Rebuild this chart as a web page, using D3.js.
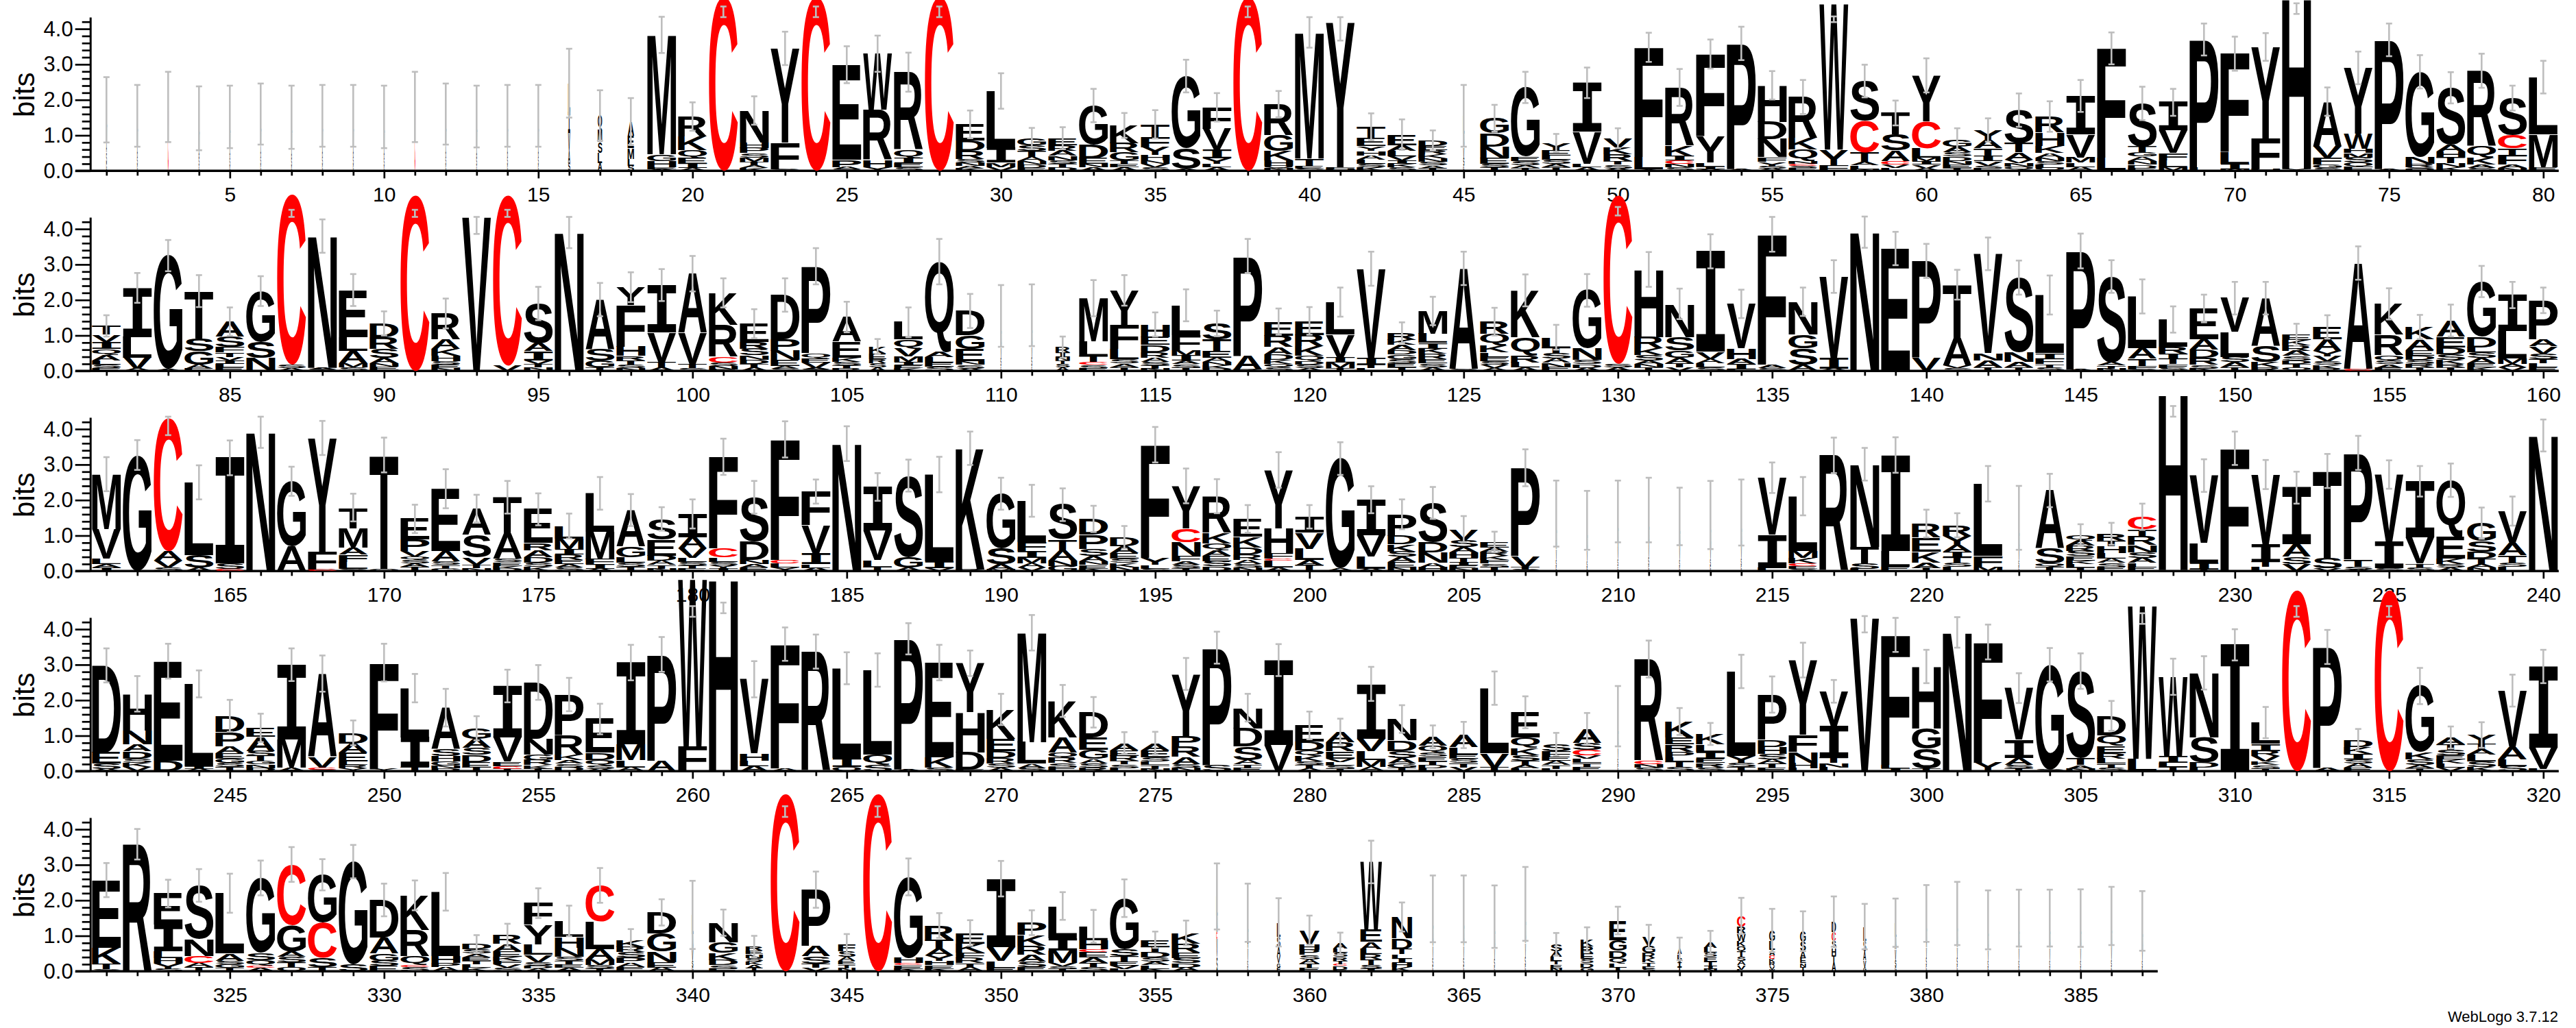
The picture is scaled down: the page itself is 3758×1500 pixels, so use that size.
<!DOCTYPE html>
<html><head><meta charset="utf-8">
<script src="https://cdn.jsdelivr.net/npm/d3@7"></script>
<style>body{margin:0;background:#fff;} svg{display:block;}</style>
</head><body>
<svg id="chart" width="3758" height="1500"></svg>
<script>
// ---------------- DATA ----------------
// Each stack lists letters from top to bottom with their heights in bits.
const rowStarts = [1, 81, 161, 241, 321];
const yTickValues = [0, 1, 2, 3, 4];
const yLabel = "bits";
const versionLabel = "WebLogo 3.7.12";

const stacksRow1 = [
"L.5 V.4 A.3 S.3 G.22","L.45 V.4 A.3 S.25 G.15","C1.8","L.45 V.35 A.3 S.25 G.13","L.45 V.4 A.3 S.25 G.12",
"L.5 V.4 A.3 S.25 G.15","L.45 V.4 A.3 S.24 G.12","L.45 V.4 A.3 S.25 G.15","L.45 V.4 A.3 S.25 G.15","L.45 V.4 A.3 S.25 G.12",
"C1.8","L.5 V.4 A.3 S.25 G.15","L.45 V.4 A.3 S.25 G.13","L.45 V.4 A.3 S.25 G.15","L.45 V.4 A.3 S.25 G.15",
"L.8 I.6 V.5 A.35 S.22","Q.4 M.35 S.3 L.3 A.21","A.4 E.35 M.3 L.2 S.14","M3.37 G.18 H.18 E.05 A.05","R.56 K.39 Q.22 E.16 I.12 A.08",
"C4.9","N.9 H.15 P.15 S.12 M.12 T.1 A.08 K.08","Y2.65 F.75 S.05","C4.9","E2.68 P.2 A.06 S.05",
"W1.58 R1.42 H.2 Y.1","R2.19 Q.22 I.15 E.12 S.1","C4.9","E.46 D.29 R.22 S.1 N.1 A.08 K.06","L1.6 I.42 M.13 V.1",
"G.19 S.16 T.16 A.12 N.1 D.1 E.08","E.2 R.15 A.15 N.12 S.1 T.1 D.1","G1.09 D.39 E.16 N.1 A.1","K.5 R.26 G.22 T.1 E.1 A.1","T.35 F.29 Y.22 H.15 N.1 V.1 S.1",
"G2.04 S.58 A.05","F.6 V.58 I.26 Y.15 L.1 A.1","C4.9","R.87 G.45 K.26 H.15 Q.08 N.07","M3.55 T.2 E.08 S.07",
"Y4.08 F.05 H.05","T.32 E.22 Y.13 H.13 A.12 L.12 S.1 K.1","E.3 A.15 L.15 V.12 I.1 K.1 S.1","D.15 E.12 R.12 K.12 N.1 S.1 A.08 T.07","L.5 A.4 V.3 S.22 G.13",
"G.42 D.38 N.32 E.16 S.1 T.1","G1.95 E.12 S.12 A.08 T.08","Y.2 E.15 L.12 S.12 A.1 T.1","I1.38 V.9 L.1 A.1","V.25 K.2 R.2 T.1 S.1 A.07",
"F3.08 L.35 Y.05","R1.64 K.29 I.12 C.1 N.1 S.1","F2.32 Y.74 L.1 I.08 V.05","P3.54 A.05","H1.03 D.48 N.51 F.13 Y.13 S.07 A.06",
"R1.16 K.32 Q.32 N.08 C.06 S.06 E.08","W4.1 Y.45 F.15","S1.12 C.9 T.26 A.1 L.1 N.05","T.61 S.45 A.29 C.1 V.1 L.08","Y1.29 C.77 L.26 M.1 I.1 V.1 A.07",
"G.2 A.15 S.12 D.12 N.1 E.1 T.08","Y.29 A.22 T.2 I.16 V.13 S.08 E.07","S.93 T.26 A.2 V.1 N.1 Q.1 G.02","R.45 H.38 K.2 A.12 N.1 S.1 L.1 Q.08","I1.09 V.64 M.15 L.12 A.11",
"F3.08 L.35 Y.02","S1.21 T.16 G.13 A.13 N.1 D.1 E.07","I.79 V.64 F.2 L.2 M.1","P3.6 L.1","F2.78 L.32 I.15 M.05",
"Y2.57 F.87 H.05","H4.8 Y.05","A1.25 V.32 F.2 G.1 S.08","Y1.85 W.42 H.13 M.12 S.15 Q.12 F.11","P3.64 A.05",
"G2.39 N.2 R.1 S.05 D.05","S1.6 A.2 H.16 T.16 N.12 K.1","R2.12 Q.32 K.2 A.1 S.08","S1.03 C.39 T.19 F.26 A.1 N.08","L1.61 M.93 E.1"
];
const stacksRow2 = [
"T.25 V.2 I.2 Q.17 A.15 L.12 S.1 E.08","I1.38 L.58 V.32 A.06","G3.2 A.05","T1.33 S.35 G.39 A.12 E.06","A.42 S.29 F.15 T.13 V.1 I.1 L.1 E.1",
"G1.43 S.45 N.35 A.02","C4.8 S.1 A.08","N3.71 A.05 S.04","E1.32 L.39 A.35 M.12 S.1","D.39 R.32 S.26 A.15 N.1 E.1 K.02",
"C4.95","R.74 A.26 K.19 H.15 S.1 E.1 N.08","V4.33","C4.8 V.15","S1.11 A.23 I.26 V.1 T.1 N.1",
"N3.88 S.02","A1.4 S.32 G.19 T.1","Y.5 F1.17 H.26 R.13 T.12 S.1 N.08","I1.34 V.84 T.14 A.1","A1.67 V.87 T.12 S.08",
"K.9 R.9 C.16 S.1 N.1 E.04","E.51 R.19 S.19 N.12 D.12 T.1 A.1","D1.25 P.32 N.26 E.16 A.08 S.07","P2.45 Q.13 E.13 V.15 A.05 S.04","A.69 E.45 K.12 S.1 T.1 R.06",
"K.2 E.15 R.12 S.12 A.1","L.48 Q.26 V.22 M.15 I.1 E.08 K.08","Q2.54 A.15 L.15 E.12 S.12","D.68 G.39 E.35 N.1 S.1 A.07","L.5 A.4 V.3 S.22 G.13",
"L.5 A.4 V.3 S.24 G.13","R.15 I.12 N.1 T.1 S.1 A.1","M1.22 L.42 T.16 C.08 S.1 E.07","Y.97 F.68 L.29 S.12 A.1 T.1 N.01","H.35 E.23 D.2 R.15 A.12 S.1 T.1 N.06",
"L.84 F.42 M.15 I.15 A.1 S.1 T.09","S.45 T.32 E.19 A.12 N.1 K.1 D.06","P2.8 A.39 R.05","E.4 R.32 A.2 D.15 K.12 Q.1 S.1","E.4 R.32 K.26 Q.15 D.1 S.1 A.08",
"L.92 V.64 I.15 M.15 T.08","V2.5 I.2 T.1 L.08","R.2 K.15 A.15 D.12 G.12 S.12 E.12 T.1","M.64 L.26 I.16 K.15 R.15 E.12 S.11 A.1","A2.84 S.05",
"R.35 Q.32 K.19 L.13 E.12 S.1 V.1 A.08","K1.32 Q.51 R.2 L.14 A.1","L.3 T.15 S.15 A.12 N.12 E.11","G1.64 N.32 S.12 D.1 A.09","C4.75 S.1 A.1",
"H1.9 R.32 K.19 S.15 A.1 N.1 T.1","N.93 S.39 G.2 A.15 T.12 V.1","I2.83 V.2 A.12 L.12 S.1","V1.25 H.3 A.15 I.15 L.04","F3.67 A.1 S.08",
"N.93 G.39 S.45 A.15 I.03","V2.3 I.3 A.06","N3.91","E3.43 A.02","P2.73 V.37",
"T1.5 A.77 V.08 S.08","V2.8 N.2 A.2 T.1","S2.12 N.26 A.15 T.1","L1.64 I.16 F.15 T.1 S.09","P3.33 A.05",
"S2.41 A.1 T.08 N.07","L1.45 A.3 T.2 F.1 S.05","L.76 R.2 I.15 T.15 F.1 S.09","E.87 A.29 D.23 R.2 S.1 K.07","V.95 L.7 S.15 A.15 T.1",
"A1.35 S.45 K.15 R.1","E.15 K.15 R.15 A.15 S.12 D.1 T.1 Q.1","E.35 A.32 Y.15 V.15 S.1 K.1 R.07","A2.99 C.05","K.87 R.58 Q.15 S.1 A.1 E.09",
"K.35 A.3 E.15 D.12 S.12 R.1 T.1","A.45 E.3 D.2 S.15 K.12 R.1 T.1","G1.55 D.3 L.15 S.15 A.15 E.12 K.1","I1.02 L.77 M.15 A.1 V.1","P1.1 A.2 V.2 S.15 T.12 L.12 E.1"
];
const stacksRow3 = [
"M1.54 V.84 L.15 A.1 I.1","G3.27","C3.75 A.26 V.2 S.1","L2.05 S.35 A.1","I2.98 S.15 C.06",
"N3.91","G1.83 A.68 S.02","Y3.2 F.5 C.05","T.58 M.55 A.2 F.2 L.2 S.06","T3.2 Q.07",
"E.58 P.32 V.15 Q.1 S.1 A.1 T.12","E1.75 A.3 S.1 T.1 G.07","A.74 S.64 V.2 T.1 N.08","T1.02 A.71 S.1 E.1 K.08 D.07","E.95 R.2 A.2 D.15 S.12 K.12",
"L.35 M.3 I.15 R.15 E.12 A.1 S.1","L1.08 M.77 F.15 I.12 A.07","A1.03 G.3 L.15 S.12 T.12","S.58 E.45 D.15 A.12 T.1 N.07","I.65 A.32 V.26 L.12 S.1 T.1 E.06",
"F2.58 C.26 L.12 S.1 Y.08 I.08","S1.25 D.51 N.12 A.1 E.1","F3.4 C.1 L.11 Y.1","F.95 V.8 I.3 L.1 A.09","N3.59",
"I1.22 V.84 L.2 T.11","S2.3 G.3 A.09","L2.44 I.2 V.08","K3.41 R.05","G1.54 S.45 A.15 M.04",
"L1.16 F.25 I.2 M.15 A.12 V.1","S.98 T.3 A.3 N.15 G.14","D.45 P.4 S.2 A.15 N.1 E.1 K.07","D.25 A.2 E.15 S.12 K.12 N.11","F3.19 Y.2 L.1 S.07",
"Y1.19 C.39 N.39 F.15 A.1 S.1 T.08","R1.03 K.3 Q.2 A.15 E.15 S.15 D.13","E.5 K.3 D.2 R.15 A.12 S.1 N.1","Y1.64 H.7 F.15 C.06 L.2 A.1","I.45 V.45 L.32 A.15 T.16",
"G3.1 A.07","I1.0 V.6 L.35 A.06","P.6 D.25 K.2 S.15 A.15 E.15 N.1","S1.09 D.3 N.3 A.12 H.11","V.3 S.2 A.15 H.15 T.12 I.1 E.08 N.08",
"E.15 A.12 R.12 K.12 F.1 S.1 T.11","P2.48 V.3 T.08 S.05","L.55 A.45 V.3 S.2 G.12","L.5 A.35 V.3 S.18 G.1","L.55 A.45 V.35 S.2 G.13",
"L.55 A.45 V.35 S.22 G.15","L.5 A.4 V.32 S.2 G.12","L.5 A.42 V.32 S.2 G.14","L.55 A.43 V.32 S.2 G.15","V1.61 I.93 L.09",
"L1.54 M.2 K.15 C.08 E.08 S.06","R3.26","N2.32 T.48 S.15 L.06","I2.7 L.45 E.12","R.4 E.4 K.3 A.15 T.09",
"R.3 Y.25 A.2 I.15 T.15 S.12 L.12","L2.03 F.3 M.13","L.5 A.4 V.3 S.18 G.12","A1.64 S.42 Q.1 T.11","Q.15 A.15 R.15 S.15 E.12 K.1 L.1 T.1",
"R.2 T.15 H.2 L.15 A.12 S.12 E.11","C.35 T.2 R.25 N.2 S.15 A.15 L.12 E.11","H4.95 Y.03","V1.9 L.55 I.2 T.04","F3.46",
"V1.96 I.5 T.14 L.12","I1.6 A.35 S.2 V.2","T2.45 S.3 V.07","P3.0 T.2 S.08 A.05","V1.9 I.74 S.08",
"I1.58 V.74 T.1 S.11","Q1.6 E.61 K.15 S.1 A.1","G.5 S.3 D.2 T.15 A.1 N.1","V.9 A.35 T.2 S.12 L.12","N3.82"
];
const stacksRow4 = [
"D2.45 E.32 S.15 A.06","H1.03 N.39 A.2 D.2 S.12 K.12 V.12","E2.8 D.3","L2.32 I.08 A.06","D.45 P.4 A.2 E.15 G.12 S.12 T.12",
"E.25 A.4 S.14 T.14 G.1 N.1 D.09","I2.1 M.8 A.1","A2.35 V.3 C.05 S.05","D.3 A.25 E.25 L.1 R.1 Y.08","F3.0 Y.06",
"L1.38 I.84 T.12","A1.16 S.2 H.15 G.12 N.08 D.08","G.3 A.25 S.2 D.2 E.15 T.11","I1.45 V.68 E.12 C.08 T.07","D1.58 N.45 G.15 R.15 K.1 T.07",
"P1.15 R.55 K.15 A.1 S.1 D.11","E.95 D.2 Q.15 S.1 A.07","I2.3 M.45 L.2 A.11","P2.99 A.3","W4.7 F.7",
"H5.4","V2.09 H.2 L.15 A.15","F3.5 A.08","R3.37","L2.52 I.26 Q.12",
"L2.38 Q.3 S.17","P3.68 A.05","E2.66 K.3 S.1","Y1.38 H1.13 D.48 E.05","K.82 E.35 D.2 R.15 S.12 A.1",
"M3.08 L.61 A.12 S.09","K1.03 A.42 Q.15 R.15 S.12 E.11","D.71 E.35 G.26 A.12 S.12 R.1","A.2 E.15 R.15 T.1 S.1 L.09","A.2 E.2 S.12 L.1 T.1 N.07",
"Y1.74 P.3 R.3 A.2 S.1 N.1","P3.3 S.18","N.58 D.51 S.39 A.12 T.1 E.09","I2.39 V.74","E.46 D.25 Q.15 K.15 S.1 T.1 A.08",
"A.3 R.25 E.2 V.1 L.1 S.1 T.06","I1.54 V.35 L.25 M.2 A.12","N.6 D.3 S.2 A.15 G.12 T.1","A.25 Q.2 S.12 E.12 T.1 D.1 L.08","A.35 L.2 E.12 S.12 T.12 V.11",
"L1.83 V.4 T.11","E.71 Q.3 K.2 S.15 T.12 A.1 L.08","S.2 F.15 E.12 A.12 T.1 L.07","A.4 S.2 C.15 V.1 L.12 T.12 E.11","L.5 A.4 V.3 S.2 G.15",
"R2.86 C.1 N.1 S.1","K.45 E.2 R.2 P.15 L.12 T.15 S.13","K.3 L.2 I.2 E.12 R.12 S.11","L2.37 Y.2 S.12 T.12","P1.27 D.2 H.2 S.15 A.12 T.12 E.1",
"Y2.11 F.48 N.3 H.15 L.09","V.97 I.9 T.15 N.12 L.11","V4.31","F3.66 L.1 I.08","H1.74 G.58 S.55 T.08",
"N3.91","F3.4 Y.24","V1.45 I.51 A.2 S.1 T.08","G2.95 S.05","S2.45 T.2 A.1 N.07",
"D.55 Q.3 E.2 R.15 L.15 T.12 S.09","W4.3 L.35","W2.22 I.2 L.12 T.12","N1.81 S.71 D.15 L.1","I3.56",
"L.6 I.2 R.15 V.15 K.1 S.1 T.07","C5.1","P3.41 A.09","D.2 K.2 I.15 S.12 A.12 E.1","C5.1",
"G1.87 K.2 S.15 A.1 T.08","A.2 T.15 S.15 E.12 K.12 L.11 V.1","Y.25 T.15 A.15 L.2 S.15 K.12","V1.58 A.35 L.2 S.14","I2.28 V.6 L.07"
];
const stacksRow5 = [
"E1.91 K.45 T.15 S.06","R3.58","E.88 I.74 L.2 H.15 Y.15 S.07","S1.5 N.48 C.2 A.12 T.12","L1.7 A.2 S.1 G.1 T.1",
"G2.12 S.2 Q.15 C.06 A.1","C1.71 G.74 A.15 S.15 T.15 Q.11","G1.35 C1.0 S.25 T.12","G2.9 S.19","D1.06 A.45 G.2 S.15 E.15",
"K.97 R.74 Q.25 C.06 S.12","L1.8 H.2 P.12 A.12","D.15 S.12 A.1 E.1 T.1 L.1 K.1","R.25 A.2 E.15 K.12 F.1 V.1 S.1","F.61 Y.55 L.3 V.2 S.1 D.08 A.08",
"L.45 H.3 N.25 S.12 T.1 E.1 A.1","C1.02 L.77 A.3 M.15 S.1 T.08","K.2 R.15 S.15 P.15 A.12 E.12","D.6 G.5 N.3 E.15 A.11","L.55 A.45 V.3 S.17 G.12",
"N.55 G.3 K.2 D.15 S.1 E.07","R.12 E.1 N.1 S.1 K.1 A.09 T.09","C5.0","P1.58 A.3 S.2 T.12 V.1","F.2 S.15 A.12 E.1 T.1 N.09",
"C5.0","G2.28 H.15 C.06 E.1 K.07","R.4 T.25 A.2 Y.15 H.12 E.1 K.07","E.3 K.25 F.15 R.15 T.12 A.11","I1.92 V.4 L.2 E.09",
"P.35 K.3 R.25 A.2 S.15 E.12","L.9 I.35 M.35 V.1 S.08 T.06","L.4 H.25 C.08 E.15 A.15 T.12 S.12","G1.43 S.2 T.15 E.12 V.1 L.06","E.2 T.15 D.15 S.12 A.1 L.1 K.07",
"K.3 R.25 E.15 S.15 D.12 A.11","L.55 A.45 C.2 V.5 S.41","L.55 A.45 V.35 S.2 G.1","L.4 S.3 A.25 V.2 G.13 E.1","V.4 H.15 P.15 S.12 A.12 T.12 E.1",
"A.15 L.12 S.12 R.1 T.1 C.05 D.1 E.05","W1.9 E.35 A.2 L.15 R.15 T.15 S.1 I.08","N.6 D.3 T.15 L.12 I.12 H.12 K.12","L.55 A.5 V.35 S.22 G.14","L.55 A.5 V.35 S.22 G.14",
"L.5 A.4 V.3 S.22 G.12","L.6 A.5 V.4 S.25 G.15","S.2 A.15 L.12 T.1 E.1 N.09","K.2 R.2 E.15 S.12 D.12 G.11","E.55 G.3 D.2 Q.15 L.12 T.11",
"V.25 G.2 R.15 K.12 T.1 E.08 S.07","A.15 L.12 V.12 I.12 T.12","A.15 L.15 S.12 E.12 T.12 I.1 N.06","C.3 R.2 W.2 K.15 Q.15 T.15 S.12 A.12 V.12 L.05","G.3 L.25 A.15 C.1 K.1 R.1 V.1 W.05",
"G.3 S.25 A.2 E.15 N.1 T.13","D.3 C.25 S.2 H.2 T.2 A.25","L.4 S.3 A.25 V.2 G.11","L.4 A.35 V.3 S.2 G.12","L.5 A.45 V.3 S.23 G.15",
"L.5 A.45 V.3 S.23 G.15","L.45 A.4 V.3 S.2 G.1","L.45 A.4 V.35 S.2 G.1","L.45 A.4 V.35 S.2 G.1","L.45 A.4 V.35 S.2 G.1",
"L.5 A.4 V.35 S.2 G.11","L.45 A.37 V.3 S.2 G.1"
];

// error bar half-lengths (bits)
const errRow1 = [.92,.87,.99,.9,.88,.86,.89,.87,.87,.88, .99,.86,.87,.87,.87,.97,.71,.66,.51,.4, .15,.4,.47,.15,.52,.51,.55,.15,.39,.5, .3,.31,.47,.35,.4,.46,.4,.15,.37,.43, .33,.38,.43,.28,.87,.38,.44,.25,.43,.28, .41,.52,.41,.47,.4,.48,.08,.46,.35,.48, .33,.33,.47,.43,.45,.45,.47,.38,.45,.48, .39,.15,.4,.46,.46,.47,.44,.48,.35,.46];
const errRow2 = [.3,.42,.44,.45,.4,.42,.1,.47,.45,.34, .1,.42,.24,.1,.47,.44,.47,.42,.45,.5, .41,.41,.47,.51,.43,.21,.42,.64,.48,.87, .87,.3,.51,.43,.34,.45,.36,.48,.37,.39, .41,.48,.29,.4,.47,.39,.45,.35,.46,.12, .49,.43,.48,.4,.49,.4,.46,.44,.47,.48, .42,.46,.48,.55,.49,.46,.48,.37,.39,.46, .46,.31,.33,.47,.44,.34,.45,.44,.37,.36];
const errRow3 = [.48,.42,.26,.48,.49,.44,.41,.48,.39,.49, .4,.55,.39,.46,.45,.35,.46,.45,.33,.41, .51,.46,.51,.34,.49,.39,.45,.5,.47,.45, .45,.46,.37,.32,.5,.49,.48,.39,.5,.33, .46,.38,.42,.45,.37,.29,.52,.93,.83,.87, .91,.81,.96,.93,.43,.54,.5,.46,.5,.39, .34,.5,.9,.47,.3,.31,.37,.15,.46,.47, .41,.45,.48,.48,.4,.43,.47,.44,.41,.45];
const errRow4 = [.48,.5,.49,.38,.45,.4,.46,.51,.35,.53, .4,.53,.34,.46,.49,.47,.43,.5,.49,.15, .15,.51,.47,.48,.45,.47,.44,.5,.36,.44, .5,.45,.43,.31,.32,.45,.45,.39,.45,.39, .37,.48,.39,.32,.37,.47,.45,.32,.44,.85, .52,.38,.31,.47,.51,.49,.32,.23,.48,.47, .43,.49,.42,.47,.5,.42,.15,.51,.47,.44, .44,.15,.48,.3,.15,.51,.31,.36,.45,.47];
const errRow5 = [.48,.43,.39,.46,.55,.49,.49,.44,.47,.46, .42,.53,.25,.32,.42,.43,.49,.3,.37,.96, .37,.3,.15,.51,.29,.15,.52,.35,.36,.5, .35,.39,.46,.53,.23,.35,.93,.82,.68,.41, .3,.6,.41,.94,.94,.88,1.04,.32,.34,.39, .34,.32,.32,.51,.61,.56,.71,.64,.68,.8, .89,.83,.8,.8,.81,.82,.84];

// error bar centres where they differ from the drawn stack top
const errorCenters = {21:4.48,24:4.48,28:4.48,38:4.48,41:4.0,57:4.27,72:4.57,87:4.44,91:4.44,93:4.1,94:4.44,
  130:4.5,163:4.09,228:4.5,260:4.5,261:4.6,298:4.14,307:4.3,312:4.5,315:4.5,343:4.5,346:4.5};

// relative stack widths of gappy columns (others = 1)
const columnWidths = {1:.025,2:.025,3:.025,4:.025,5:.025,6:.025,7:.025,8:.025,9:.025,10:.025,11:.025,12:.025,13:.025,14:.025,15:.025,
  16:.07,17:.15,18:.22,45:.04,106:.6,110:.03,111:.03,112:.5,208:.03,209:.03,210:.03,211:.03,212:.03,213:.03,214:.03,223:.03,
  290:.03,340:.05,342:.6,345:.6,357:.04,358:.03,359:.12,360:.7,361:.5,362:.75,363:.7,364:.03,365:.03,366:.03,367:.03,
  368:.4,369:.45,370:.6,371:.45,372:.15,373:.45,374:.3,375:.2,376:.2,377:.15,378:.1,379:.05,
  380:.03,381:.03,382:.03,383:.03,384:.03,385:.03,386:.03,387:.03};

// ---------------- DRAWING ----------------
const FONT = '"Liberation Sans", Arial, Helvetica, sans-serif';
const LETTER_FONT = '"Liberation Sans"';
const SERIF_I_FONT = '"DejaVu Sans Mono"';   // 'I' drawn with bars, as in the logo
const X0 = 155.3, STEP = 45, ROW_Y0 = 249.3, ROW_STEP = 292, BIT = 51.8, FULL_W = 42;
const YMAX = 4.33;
const svg = d3.select('#chart');
svg.append('rect').attr('width', 3758).attr('height', 1500).attr('fill', '#fff');

const canvas = document.createElement('canvas');
const ctx = canvas.getContext('2d');
const FONT_PX = 200;
function fontFor(ch) { return ch === 'I' ? SERIF_I_FONT : LETTER_FONT; }
const inkCache = {};
function ink(ch) {
  if (!inkCache[ch]) {
    ctx.font = `bold ${FONT_PX}px ${fontFor(ch)}`;
    const m = ctx.measureText(ch);
    inkCache[ch] = {l: m.actualBoundingBoxLeft, r: m.actualBoundingBoxRight, a: m.actualBoundingBoxAscent, d: m.actualBoundingBoxDescent};
  }
  return inkCache[ch];
}
function parseStack(s) {
  return s.trim().split(/\s+/).map(t => ({ch: t[0], h: parseFloat(t.slice(1))}));
}

const rows = [
  {start: rowStarts[0], stacks: stacksRow1, errs: errRow1},
  {start: rowStarts[1], stacks: stacksRow2, errs: errRow2},
  {start: rowStarts[2], stacks: stacksRow3, errs: errRow3},
  {start: rowStarts[3], stacks: stacksRow4, errs: errRow4},
  {start: rowStarts[4], stacks: stacksRow5, errs: errRow5}
];
const minorY = d3.range(1, 22).map(i => +(i * 0.2).toFixed(1)).filter(v => Math.abs(v - Math.round(v)) > 1e-6);

rows.forEach((row, r) => {
  const y0 = ROW_Y0 + r * ROW_STEP;
  const end = row.start + row.stacks.length - 1;
  const positions = d3.range(row.start, end + 1);
  const x = d3.scaleLinear().domain([row.start, row.start + 1]).range([X0, X0 + STEP]);
  const y = d3.scaleLinear().domain([0, YMAX]).range([y0, y0 - YMAX * BIT]);
  const g = svg.append('g');

  // y axis
  const ya = g.append('g').attr('transform', 'translate(131.7,0)')
    .call(d3.axisLeft(y).tickValues(yTickValues).tickSize(22).tickPadding(3).tickSizeOuter(0).tickFormat(d3.format('.1f')));
  ya.attr('font-family', FONT).attr('font-size', 31);
  ya.select('.domain').attr('stroke-width', 3);
  ya.selectAll('.tick line').attr('stroke-width', 2.7);
  ya.selectAll('.tick text').attr('fill', '#000');
  const ym = g.append('g').attr('transform', 'translate(131.7,0)')
    .call(d3.axisLeft(y).tickValues(minorY).tickSize(12).tickFormat(''));
  ym.select('.domain').remove();
  ym.selectAll('.tick line').attr('stroke-width', 2.7);

  g.append('text').attr('transform', `translate(50,${y0 - 111}) rotate(-90)`)
    .attr('text-anchor', 'middle').attr('font-family', FONT).attr('font-size', 42).attr('fill', '#000').text(yLabel);

  // x axis
  g.append('line').attr('x1', 110).attr('x2', x(end) + STEP / 2).attr('y1', y0).attr('y2', y0)
    .attr('stroke', '#000').attr('stroke-width', 3.4);
  const xm = g.append('g').attr('transform', `translate(0,${y0})`)
    .call(d3.axisBottom(x).tickValues(positions.filter(p => p % 5 !== 0)).tickSize(7).tickFormat(''));
  xm.select('.domain').remove();
  xm.selectAll('.tick line').attr('stroke-width', 2.7);
  const xM = g.append('g').attr('transform', `translate(0,${y0})`)
    .call(d3.axisBottom(x).tickValues(positions.filter(p => p % 5 === 0)).tickSize(11).tickFormat(d3.format('d')));
  xM.attr('font-family', FONT).attr('font-size', 30);
  xM.select('.domain').remove();
  xM.selectAll('.tick line').attr('stroke-width', 2.7);
  xM.selectAll('.tick text').attr('y', 45).attr('dy', 0).attr('fill', '#000');

  // letters
  const lg = g.append('g').attr('font-weight', 'bold').attr('font-size', FONT_PX);
  const totals = [];
  row.stacks.forEach((s, i) => {
    const p = row.start + i;
    const w = FULL_W * (columnWidths[p] ?? 1);
    let cum = 0;
    parseStack(s).reverse().forEach(({ch, h}) => {
      const yb = y(cum), yt = y(cum + h);
      cum += h;
      const m = ink(ch);
      const sx = w / (m.l + m.r), sy = (yb - yt) / (m.a + m.d);
      lg.append('text')
        .attr('font-family', fontFor(ch))
        .attr('transform', `translate(${x(p) - w / 2},${yt}) scale(${sx},${sy}) translate(${m.l},${m.a})`)
        .attr('fill', ch === 'C' ? '#ff0000' : '#000')
        .text(ch);
    });
    totals.push(cum);
  });

  // error bars
  const eg = g.append('g').attr('stroke', '#bebebe').attr('stroke-width', 2.6);
  row.errs.forEach((e, i) => {
    const p = row.start + i;
    const c = errorCenters[p] ?? totals[i];
    const cx = x(p);
    eg.append('line').attr('x1', cx).attr('x2', cx).attr('y1', y(c - e)).attr('y2', y(c + e));
    eg.append('line').attr('x1', cx - 4.5).attr('x2', cx + 4.5).attr('y1', y(c - e)).attr('y2', y(c - e));
    eg.append('line').attr('x1', cx - 4.5).attr('x2', cx + 4.5).attr('y1', y(c + e)).attr('y2', y(c + e));
  });
});

svg.append('text').attr('x', 3732).attr('y', 1491).attr('text-anchor', 'end')
  .attr('font-family', FONT).attr('font-size', 22).attr('fill', '#000').text(versionLabel);
</script>
</body></html>
